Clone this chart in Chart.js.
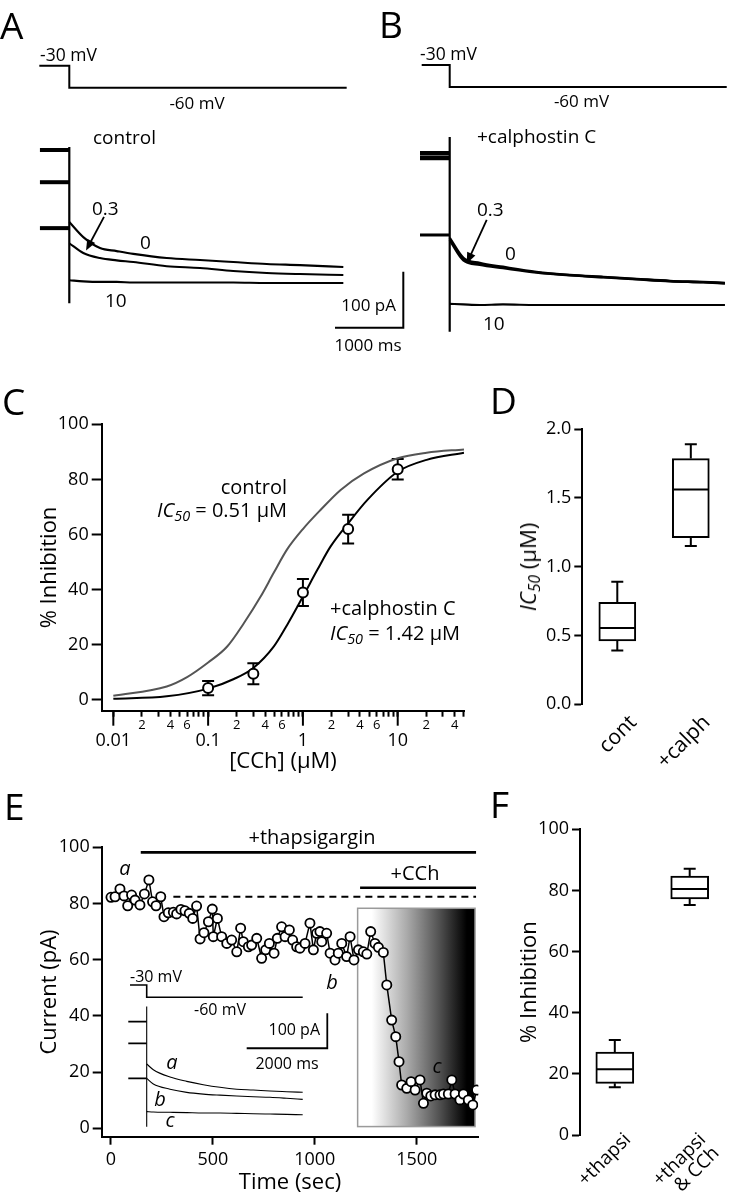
<!DOCTYPE html>
<html>
<head>
<meta charset="utf-8">
<script src="https://cdn.jsdelivr.net/npm/chart.js@4.4.1/dist/chart.umd.min.js"></script>
<style>
  html, body { margin: 0; padding: 0; background: #fff; }
  body { position: relative; width: 741px; height: 1199px; overflow: hidden; font-family: 'Open Sans', sans-serif; }
  canvas { position: absolute; }
  .lbl { position: absolute; line-height: 1; white-space: nowrap; color: #000; }
  .lbl sub { font-size: 0.72em; vertical-align: -0.28em; line-height: 0; }
</style>
</head>
<body>
<canvas id="chA" width="420" height="310" style="left:0;top:40px"></canvas>
<canvas id="chB" width="371" height="310" style="left:370px;top:40px"></canvas>
<canvas id="chC" width="480" height="400" style="left:0;top:390px"></canvas>
<canvas id="chD" width="261" height="400" style="left:480px;top:390px"></canvas>
<canvas id="chE" width="500" height="409" style="left:0;top:790px"></canvas>
<canvas id="chF" width="261" height="409" style="left:480px;top:790px"></canvas>
<script>
// ---- A: control traces (ms after step to -60 mV, pA) ----
const stepTA = [-439, 0, 0, 4061];
const stepV = [-30, -30, -60, -60];
const preTA = [-430, 0];
const ctlPre = [237.5, 180, 98];          // 0, 0.3, 10 uM before the step
const traceTA = [0, 205, 449, 694, 937, 1426, 1914, 2401, 2890, 3378, 4012];
const ctlI0 = [109, 82, 62.5, 57, 52, 44.6, 41, 37.5, 34, 32, 28.6];
const ctlI03 = [71, 53.6, 44.6, 40.5, 37.5, 30, 26.8, 21.4, 17.9, 16, 14.3];
const ctlI10 = [5, 3, 2, 2, 1, 1, 1, 1, 0, 0, 0];
const capA = [243, -36];
const barTA = [3890, 4890, 4890];        // 1000 ms / 100 pA scale bar
const barIA = [-80, -80, 20];

// ---- B: +calphostin C traces ----
const stepTB = [-410, 0, 0, 4056];
const preTB = [-435, 0];
const calPre = [271, 262.5, 125];
const traceTB = [0, 200, 440, 780, 1270, 1760, 2250, 2735, 3225, 3710, 4030];
const calI0 = [119.6, 84, 75, 68, 59, 53.6, 50, 46.4, 42.9, 41, 39.3];
const calI03 = [116, 80, 72, 66, 58, 53, 49.5, 46, 42.5, 40.5, 38.5];
const calI10 = [2, 1, 0, 1, 0, 0, 0, 0, 0, 0, 0];
const capB = [300, -48];

// ---- C: concentration-response ----
const cchTicks = [0.01, 0.02, 0.03, 0.04, 0.05, 0.06, 0.07, 0.08, 0.09,
  0.1, 0.2, 0.3, 0.4, 0.5, 0.6, 0.7, 0.8, 0.9,
  1, 2, 3, 4, 5, 6, 7, 8, 9,
  10, 20, 30, 40, 50];
const cchMajor = [0.01, 0.1, 1, 10];
const cchMajorLabels = ['0.01', '0.1', '1', '10'];
const cchMinorLabels = ['2', '4', '6'];
const inhTicks = [0, 20, 40, 60, 80, 100];
const calphX = [0.1, 0.3, 1, 3, 10];
const calphMean = [4.3, 9.5, 39, 62, 83.7];
const calphErr = [2.6, 3.8, 4.9, 5.2, 3.7];
const ctlFitX = [0.01, 0.0366, 0.06, 0.1, 0.159, 0.239, 0.358, 0.494, 0.684, 1, 1.54, 2.5, 4.41, 10, 20.2, 50];
const ctlFitY = [1.5, 4.9, 8.3, 13.6, 19.4, 27.9, 37.5, 46.2, 54.7, 62, 69, 76.2, 82.2, 87.7, 89.7, 90.9];
const calFitX = [0.01, 0.0366, 0.1, 0.187, 0.3, 0.494, 0.684, 1, 1.42, 1.96, 3, 4.79, 10, 20.2, 50];
const calFitY = [0.4, 1.3, 4.1, 7.6, 11.6, 19.4, 27.3, 37.5, 47.2, 55.7, 64.1, 72.6, 82.8, 87.1, 89.7];

// ---- D: IC50 box plot ----
const icGroups = ['cont', '+calph'];
const icTicks = [0, 0.5, 1, 1.5, 2];
const icMin = [0.39, 1.15];
const icQ1 = [0.46, 1.21];
const icMed = [0.555, 1.56];
const icQ3 = [0.74, 1.785];
const icMax = [0.89, 1.89];

// ---- E: time course ----
const timeTicks = [0, 500, 1000, 1500];
const curTicks = [0, 20, 40, 60, 80, 100];
const eTime = [0, 20, 44, 64, 82, 101, 118, 142, 164, 186, 204, 221, 244, 260, 281, 306, 322, 343, 363, 384,
  401, 420, 437, 456, 478, 497, 502, 522, 543, 568, 592, 617, 636, 649, 674, 690, 715, 739, 759, 777,
  800, 816, 837, 854, 875, 891, 911, 927, 952, 976, 993, 1009, 1025, 1034, 1058, 1075, 1099, 1115, 1132, 1156,
  1173, 1192, 1214, 1238, 1255, 1274, 1295, 1312, 1336, 1353, 1377, 1397, 1413, 1426, 1451, 1472, 1492, 1516, 1533, 1549,
  1569, 1590, 1614, 1631, 1655, 1672, 1688, 1712, 1729, 1753, 1775, 1794];
const eCurrent = [82.2, 82.4, 85.2, 82.7, 79.2, 83.0, 81.2, 79.5, 83.4, 88.4, 80.6, 79.2, 82.4, 75.3, 76.7, 76.9, 76.3, 77.9, 77.4, 76.5,
  74.7, 79.1, 67.4, 69.6, 73.5, 78.0, 68.2, 74.7, 68.2, 65.8, 67.0, 62.8, 71.2, 66.4, 64.6, 65.2, 67.6, 60.5, 63.5, 65.8,
  62.3, 67.6, 71.7, 68.2, 70.6, 67.0, 64.6, 64.1, 65.8, 73.0, 63.5, 69.4, 70.0, 66.4, 69.4, 62.3, 59.9, 62.3, 65.8, 61.1,
  68.2, 59.9, 63.5, 62.8, 62.0, 70.0, 65.8, 64.4, 62.6, 51.0, 38.5, 32.6, 23.7, 15.4, 14.2, 16.6, 13.6, 17.2, 8.9, 12.5,
  11.5, 11.9, 11.9, 12.2, 12.2, 17.2, 12.2, 10.1, 12.2, 10.1, 8.3, 13.6];
const thapsiBar = [146, 1791];
const thapsiLevel = 98.2;
const cchBar = [1222, 1791];
const cchLevel = 85.6;
const baseLine = [306, 1791];
const baseLevel = 82.4;
const cchBox = { t0: 1210, t1: 1786, i0: 0.6, i1: 78.3 };
// inset traces a, b, c
const insetStepT = [-414, 0, 0, 3871];
const insetPreT = [-457, 0];
const insetPre = [261, 199, 99];
const insetT = [0, 164, 578, 993, 1404, 1819, 2233, 2645, 3060, 3474, 3871];
const insetA = [140, 123.8, 102.8, 90.3, 80.9, 73.4, 68, 65.7, 62.9, 60.9, 59.1];
const insetB = [99, 83, 68, 59, 54, 51, 48.6, 46.6, 44.8, 42, 39];
const insetC = [4, 3, 2, 1, 0, 0, -1, -2, -3, -4, -5];
const insetCap = [304, -39];
const insetBarT = [2481, 4481, 4481];
const insetBarI = [185, 185, 285];

// ---- F: % inhibition box plot ----
const inhGroups = ['+thapsi', ['+thapsi', '& CCh']];
const inhMin = [15.6, 75.2];
const inhQ1 = [16.9, 77.2];
const inhMed = [21.5, 80.5];
const inhQ3 = [27.1, 84.7];
const inhMax = [31.1, 87.1];

Chart.defaults.font.family = "'Open Sans', sans-serif";
Chart.defaults.font.size = 18;
Chart.defaults.color = '#000';

const pts = (xs, ys) => xs.map((x, i) => ({ x, y: ys[i] }));
const ln = (data, o) => Object.assign({ data, borderColor: '#000', borderWidth: 2.1, pointRadius: 0, fill: false, tension: 0 }, o || {});
const mono = { cubicInterpolationMode: 'monotone' };
const base = { responsive: false, animation: false, events: [], plugins: { legend: { display: false }, tooltip: { enabled: false } } };
const tickGrid = len => ({ display: true, drawOnChartArea: false, tickLength: len, tickWidth: 2, tickColor: '#000' });
const axisLine = { display: true, color: '#000', width: 2 };
// rotated category labels may reach above the axis band, so do not clip them
const noLabelClip = s => { s._computeLabelArea = () => undefined; };

function arrowPlugin(from, to) {
  return {
    id: 'arrow',
    afterDatasetsDraw(chart) {
      const { ctx, scales: { x, y } } = chart;
      const x0 = x.getPixelForValue(from[0]), y0 = y.getPixelForValue(from[1]);
      const x1 = x.getPixelForValue(to[0]), y1 = y.getPixelForValue(to[1]);
      const a = Math.atan2(y1 - y0, x1 - x0), c = Math.cos(a), s = Math.sin(a);
      ctx.save();
      ctx.strokeStyle = '#000'; ctx.fillStyle = '#000'; ctx.lineWidth = 1.8;
      ctx.beginPath(); ctx.moveTo(x0, y0); ctx.lineTo(x1 - 8 * c, y1 - 8 * s); ctx.stroke();
      ctx.beginPath(); ctx.moveTo(x1, y1);
      ctx.lineTo(x1 - 11 * c + 4.5 * s, y1 - 11 * s - 4.5 * c);
      ctx.lineTo(x1 - 11 * c - 4.5 * s, y1 - 11 * s + 4.5 * c);
      ctx.closePath(); ctx.fill();
      ctx.restore();
    }
  };
}

function traceChart(id, xr, yr, vr, sets, arrow) {
  return new Chart(document.getElementById(id), {
    type: 'line',
    data: { datasets: sets },
    options: Object.assign({}, base, {
      layout: { padding: 0 },
      scales: {
        x: { type: 'linear', display: false, min: xr[0], max: xr[1] },
        y: { type: 'linear', display: false, min: yr[0], max: yr[1] },
        yv: { type: 'linear', axis: 'y', display: false, min: vr[0], max: vr[1] }
      }
    }),
    plugins: [arrowPlugin(arrow[0], arrow[1])]
  });
}

// A
traceChart('chA', [-1014.6, 5134.4], [-119.6, 433.9], [-417.7, 5.05], [
  ln(pts(stepTA, stepV), { yAxisID: 'yv', borderWidth: 2 }),
  ln(pts(preTA, [ctlPre[0], ctlPre[0]]), { borderWidth: 4 }),
  ln(pts(preTA, [ctlPre[1], ctlPre[1]]), { borderWidth: 4 }),
  ln(pts(preTA, [ctlPre[2], ctlPre[2]]), { borderWidth: 4 }),
  ln(pts([0, 0], capA), { borderWidth: 2.2 }),
  ln(pts(traceTA, ctlI0), mono),
  ln(pts(traceTA, ctlI03), mono),
  ln(pts(traceTA, ctlI10), mono),
  ln(pts(barTA, barIA), { borderWidth: 2 })
], [[508, 118], [245, 58]]);

// B
traceChart('chB', [-1166.9, 4265], [-80.4, 473.2], [-418.6, 4.09], [
  ln(pts(stepTB, stepV), { yAxisID: 'yv', borderWidth: 2 }),
  ln(pts(preTB, [calPre[0], calPre[0]]), { borderWidth: 4.5 }),
  ln(pts(preTB, [calPre[1], calPre[1]]), { borderWidth: 4.5 }),
  ln(pts(preTB, [calPre[2], calPre[2]]), { borderWidth: 3 }),
  ln(pts([0, 0], capB), { borderWidth: 2.2 }),
  ln(pts(traceTB, calI0), Object.assign({ borderWidth: 2.6 }, mono)),
  ln(pts(traceTB, calI03), Object.assign({ borderWidth: 2.6 }, mono)),
  ln(pts(traceTB, calI10), mono)
], [[542, 152], [249, 74]]);

// C
const errPlugin = {
  id: 'errbars',
  beforeDatasetsDraw(chart) {
    const { ctx, scales: { x, y } } = chart;
    ctx.save(); ctx.strokeStyle = '#000'; ctx.lineWidth = 2;
    calphX.forEach((cx, i) => {
      const px = x.getPixelForValue(cx);
      const top = y.getPixelForValue(calphMean[i] + calphErr[i]);
      const bot = y.getPixelForValue(calphMean[i] - calphErr[i]);
      ctx.beginPath();
      ctx.moveTo(px, top); ctx.lineTo(px, bot);
      ctx.moveTo(px - 6, top); ctx.lineTo(px + 6, top);
      ctx.moveTo(px - 6, bot); ctx.lineTo(px + 6, bot);
      ctx.stroke();
    });
    ctx.restore();
  },
  afterDraw(chart) {
    const { ctx, chartArea, scales: { x } } = chart;
    ctx.save(); ctx.strokeStyle = '#000'; ctx.lineWidth = 2;
    cchMajor.forEach(v => {
      const px = x.getPixelForValue(v);
      ctx.beginPath(); ctx.moveTo(px, chartArea.bottom); ctx.lineTo(px, chartArea.bottom + 15); ctx.stroke();
    });
    ctx.restore();
  }
};

new Chart(document.getElementById('chC'), {
  type: 'line',
  data: {
    datasets: [
      { data: pts(calphX, calphMean), showLine: false, pointRadius: 5, pointBorderWidth: 2, pointBorderColor: '#000', pointBackgroundColor: '#fff' },
      ln(pts(calFitX, calFitY), Object.assign({ borderWidth: 2 }, mono)),
      ln(pts(ctlFitX, ctlFitY), Object.assign({ borderWidth: 2, borderColor: '#555' }, mono))
    ]
  },
  options: Object.assign({}, base, {
    layout: { padding: { top: 34.3, right: 15.7, left: 36.8, bottom: 14.8 } },
    scales: {
      x: {
        type: 'logarithmic', min: 0.00754, max: 50.4,
        afterBuildTicks: s => { s.ticks = cchTicks.map(v => ({ value: v, major: cchMajor.includes(v) })); },
        afterFit: s => { s.height = 64.5; },
        grid: tickGrid(6), border: axisLine,
        ticks: {
          autoSkip: false, maxRotation: 0, minRotation: 0, padding: 0.5,
          font: c => (c.tick && c.tick.major) ? { size: 18, lineHeight: 0.86 } : { size: 13 },
          callback: (v, i, ticks) => {
            if (ticks[i].major) return ['', cchMajorLabels[cchMajor.indexOf(v)]];
            const d = String(Math.round(v / Math.pow(10, Math.floor(Math.log10(v) + 1e-9))));
            return cchMinorLabels.includes(d) ? d : '';
          }
        },
        title: { display: true, text: '[CCh] (μM)', font: { size: 22 }, padding: 0 }
      },
      y: {
        min: -3.9, max: 100,
        afterBuildTicks: s => { s.ticks = inhTicks.map(v => ({ value: v })); },
        afterFit: s => { s.width = 64.9; },
        grid: tickGrid(10), border: axisLine,
        ticks: { padding: 3 },
        title: { display: true, text: '% Inhibition', font: { size: 22 }, padding: 0 }
      }
    }
  }),
  plugins: [errPlugin]
});

// box plot parts: median, whiskers and caps
function boxPlugin(mins, q1s, meds, q3s, maxs) {
  return {
    id: 'boxparts',
    afterDatasetsDraw(chart) {
      const { ctx, scales: { y } } = chart;
      ctx.save(); ctx.strokeStyle = '#000'; ctx.lineWidth = 2;
      chart.getDatasetMeta(0).data.forEach((bar, i) => {
        const { x, width } = bar.getProps(['x', 'width'], true);
        const h = width / 2 - 1, cap = 6;
        const yMed = y.getPixelForValue(meds[i]);
        const yLo = y.getPixelForValue(mins[i]), yHi = y.getPixelForValue(maxs[i]);
        const yQ1 = y.getPixelForValue(q1s[i]), yQ3 = y.getPixelForValue(q3s[i]);
        ctx.beginPath();
        ctx.moveTo(x - h, yMed); ctx.lineTo(x + h, yMed);
        ctx.moveTo(x, yQ3); ctx.lineTo(x, yHi);
        ctx.moveTo(x - cap, yHi); ctx.lineTo(x + cap, yHi);
        ctx.moveTo(x, yQ1); ctx.lineTo(x, yLo);
        ctx.moveTo(x - cap, yLo); ctx.lineTo(x + cap, yLo);
        ctx.stroke();
      });
      ctx.restore();
    }
  };
}

// D
new Chart(document.getElementById('chD'), {
  type: 'bar',
  data: { datasets: [{ data: icQ1.map((q, i) => ({ x: i, y: [q, icQ3[i]] })), backgroundColor: '#fff', borderColor: '#000', borderWidth: 2, borderSkipped: false, barThickness: 37 }] },
  options: Object.assign({}, base, {
    layout: { padding: { top: 39, right: 11, left: 0, bottom: 25.7 } },
    scales: {
      x: {
        type: 'linear', offset: false, min: -0.476, max: 1.533,
        afterBuildTicks: s => { s.ticks = icGroups.map((g, i) => ({ value: i })); },
        afterFit: s => { s.height = 60; noLabelClip(s); },
        grid: { display: false }, border: { display: false },
        ticks: { minRotation: 45, maxRotation: 45, autoSkip: false, padding: -2, labelOffset: 16, font: { size: 21 }, callback: v => icGroups[v] }
      },
      y: {
        min: 0, max: 2,
        afterBuildTicks: s => { s.ticks = icTicks.map(v => ({ value: v })); },
        afterFit: s => { s.width = 102.3; },
        grid: tickGrid(8), border: axisLine,
        ticks: { padding: 3, callback: v => v.toFixed(1) }
      }
    }
  }),
  plugins: [boxPlugin(icMin, icQ1, icMed, icQ3, icMax)]
});

// E
const shadePlugin = {
  id: 'shade',
  beforeDatasetsDraw(chart) {
    const { ctx, scales: { x, y } } = chart;
    const l = x.getPixelForValue(cchBox.t0), r = x.getPixelForValue(cchBox.t1);
    const t = y.getPixelForValue(cchBox.i1), b = y.getPixelForValue(cchBox.i0);
    const g = ctx.createLinearGradient(l, 0, r, 0);
    g.addColorStop(0, '#fff'); g.addColorStop(0.12, '#fff'); g.addColorStop(0.42, '#aaa');
    g.addColorStop(0.7, '#505050'); g.addColorStop(0.93, '#000'); g.addColorStop(1, '#000');
    ctx.save();
    ctx.fillStyle = g; ctx.fillRect(l, t, r - l, b - t);
    ctx.strokeStyle = '#9a9a9a'; ctx.lineWidth = 1.5; ctx.strokeRect(l, t, r - l, b - t);
    ctx.restore();
  }
};
const ins = o => Object.assign({ xAxisID: 'xi', yAxisID: 'yi', borderWidth: 1.1 }, o || {});

new Chart(document.getElementById('chE'), {
  type: 'line',
  data: {
    datasets: [
      { data: pts(eTime, eCurrent), borderColor: '#000', borderWidth: 1.5, pointRadius: 4.6, pointBorderWidth: 1.8, pointBorderColor: '#000', pointBackgroundColor: '#fff', fill: false },
      ln(pts(thapsiBar, [thapsiLevel, thapsiLevel]), { borderWidth: 2.7 }),
      ln(pts(cchBar, [cchLevel, cchLevel]), { borderWidth: 2.7 }),
      ln(pts(baseLine, [baseLevel, baseLevel]), { borderWidth: 2, borderDash: [7, 5] }),
      ln(pts(insetStepT, stepV), ins({ yAxisID: 'yv', borderWidth: 1.6 })),
      ln(pts(insetPreT, [insetPre[0], insetPre[0]]), ins({ borderWidth: 1.8 })),
      ln(pts(insetPreT, [insetPre[1], insetPre[1]]), ins({ borderWidth: 1.8 })),
      ln(pts(insetPreT, [insetPre[2], insetPre[2]]), ins({ borderWidth: 1.8 })),
      ln(pts([0, 0], insetCap), ins()),
      ln(pts(insetT, insetA), ins(mono)),
      ln(pts(insetT, insetB), ins(mono)),
      ln(pts(insetT, insetC), ins(mono)),
      ln(pts(insetBarT, insetBarI), ins({ borderWidth: 1.8 }))
    ]
  },
  options: Object.assign({}, base, {
    layout: { padding: { top: 57.3, right: 21.7, left: 36.8, bottom: 2.8 } },
    scales: {
      x: {
        type: 'linear', min: -45.6, max: 1802,
        afterBuildTicks: s => { s.ticks = timeTicks.map(v => ({ value: v })); },
        afterFit: s => { s.height = 59.5; },
        grid: tickGrid(8), border: axisLine,
        ticks: { padding: 4.5, maxRotation: 0, autoSkip: false, callback: v => String(v) },
        title: { display: true, text: 'Time (sec)', font: { size: 22 }, padding: 0 }
      },
      y: {
        min: -3, max: 100,
        afterBuildTicks: s => { s.ticks = curTicks.map(v => ({ value: v })); },
        afterFit: s => { s.width = 64.9; },
        grid: tickGrid(9), border: axisLine,
        ticks: { padding: 3 },
        title: { display: true, text: 'Current (pA)', font: { size: 22 }, padding: 0 }
      },
      xi: { type: 'linear', display: false, min: -1116.6, max: 8228 },
      yi: { type: 'linear', display: false, min: -67.7, max: 759.1 },
      yv: { type: 'linear', display: false, min: -400, max: 305.9 }
    }
  }),
  plugins: [shadePlugin]
});

// F
new Chart(document.getElementById('chF'), {
  type: 'bar',
  data: { datasets: [{ data: inhQ1.map((q, i) => ({ x: i, y: [q, inhQ3[i]] })), backgroundColor: '#fff', borderColor: '#000', borderWidth: 2, borderSkipped: false, barThickness: 38 }] },
  options: Object.assign({}, base, {
    layout: { padding: { top: 39.3, right: 11, left: 36.8, bottom: 4 } },
    scales: {
      x: {
        type: 'linear', offset: false, min: -0.4646, max: 1.538,
        afterBuildTicks: s => { s.ticks = inhGroups.map((g, i) => ({ value: i })); },
        afterFit: s => { s.height = 60; noLabelClip(s); },
        grid: { display: false }, border: { display: false },
        ticks: { minRotation: 45, maxRotation: 45, autoSkip: false, padding: -13, labelOffset: 13, font: { size: 19, lineHeight: 1 }, callback: v => inhGroups[v] }
      },
      y: {
        min: 0, max: 100,
        afterBuildTicks: s => { s.ticks = inhTicks.map(v => ({ value: v })); },
        afterFit: s => { s.width = 63.2; },
        grid: tickGrid(8), border: axisLine,
        ticks: { padding: 3 },
        title: { display: true, text: '% Inhibition', font: { size: 22 }, padding: 0 }
      }
    }
  }),
  plugins: [boxPlugin(inhMin, inhQ1, inhMed, inhQ3, inhMax)]
});

// ---- text annotations ----
function txt(html, x, y, size, align, extra) {
  const d = document.createElement('div');
  d.className = 'lbl';
  d.innerHTML = html;
  d.style.left = x + 'px';
  d.style.top = y + 'px';
  d.style.fontSize = size + 'px';
  const tx = align === 'right' ? '-100%' : align === 'center' ? '-50%' : '0';
  d.style.transform = 'translate(' + tx + ', -50%)' + (extra || '');
  document.body.appendChild(d);
}
const ic50 = '<i>IC</i><sub><i>50</i></sub>';

txt('A', 0, 24, 37, 'left');
txt('B', 379, 23, 37, 'left');
txt('C', 2, 400, 37, 'left');
txt('D', 490, 399, 37, 'left');
txt('E', 4, 805, 37, 'left');
txt('F', 490, 803, 37, 'left');

txt('-30 mV', 40, 55, 17.5, 'left');
txt('-60 mV', 197, 102, 17, 'center');
txt('control', 93, 137, 19, 'left');
txt('0.3', 92, 208, 19, 'left');
txt('0', 140, 242, 19, 'left');
txt('10', 105, 300, 19, 'left');
txt('100 pA', 396, 304, 17, 'right');
txt('1000 ms', 368, 343.5, 17, 'center');

txt('-30 mV', 420, 54, 17.5, 'left');
txt('-60 mV', 581.5, 100, 17, 'center');
txt('+calphostin C', 477, 136, 19, 'left');
txt('0.3', 477, 209, 19, 'left');
txt('0', 505, 252.5, 19, 'left');
txt('10', 483, 322.5, 19, 'left');

txt('control', 287, 487, 20, 'right');
txt(ic50 + ' = 0.51 μM', 287, 510, 20, 'right');
txt('+calphostin C', 330, 608, 20, 'left');
txt(ic50 + ' = 1.42 μM', 330, 633, 20, 'left');

txt(ic50 + ' (μM)', 527, 567, 22, 'center', ' rotate(-90deg)');

txt('+thapsigargin', 312, 837, 20, 'center');
txt('+CCh', 415, 873, 20, 'center');
txt('<i>a</i>', 125, 868, 20, 'center');
txt('<i>b</i>', 332, 982, 20, 'center');
txt('<i>c</i>', 437, 1066, 20, 'center');
txt('-30 mV', 130, 976, 16, 'left');
txt('-60 mV', 220, 1009, 16, 'center');
txt('100 pA', 320, 1029, 16, 'right');
txt('2000 ms', 287, 1062.5, 16, 'center');
txt('<i>a</i>', 172, 1062, 20, 'center');
txt('<i>b</i>', 160, 1099, 20, 'center');
txt('<i>c</i>', 170, 1120, 20, 'center');
</script>
</body>
</html>
